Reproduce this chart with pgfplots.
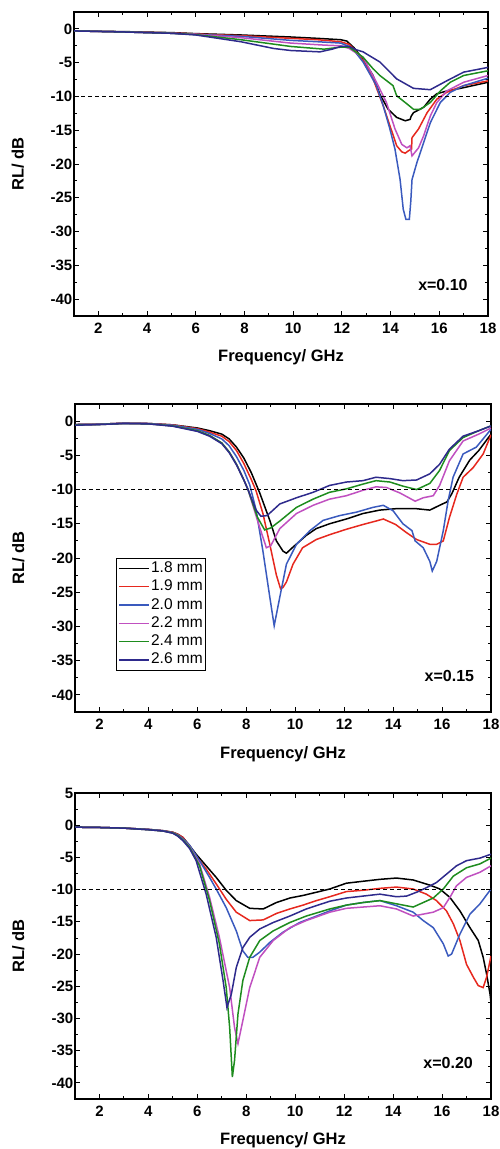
\documentclass[border=0pt]{standalone}
\usepackage{pgfplots}
\pgfplotsset{compat=1.18}
\usepackage{fontspec}
\setmainfont{Liberation Sans}

\definecolor{cBlack}{RGB}{0,0,0}
\definecolor{cRed}{RGB}{230,40,30}
\definecolor{cBlue}{RGB}{58,90,190}
\definecolor{cMag}{RGB}{192,80,192}
\definecolor{cGreen}{RGB}{30,140,30}
\definecolor{cNavy}{RGB}{46,42,140}

\pgfplotsset{
  rl/.style={
    scale only axis, anchor=north west,
    xmin=1, xmax=18, ymin=-42.5,
    xtick={2,4,6,8,10,12,14,16,18},
    xticklabels={2,4,6,8,10,12,14,16,18},
    minor x tick num=1,
    minor y tick num=1,
    axis line style={line width=1.3pt},
    major tick length=5pt, minor tick length=3pt,
    every tick/.style={black, line width=0.9pt},
    tick label style={font=\fontsize{15}{15}\selectfont\bfseries, inner sep=1.5pt},
    xticklabel style={yshift=-5pt},
    label style={font=\fontsize{16.5}{16.5}\selectfont\bfseries},
    xlabel={Frequency/ GHz}, ylabel={RL/ dB},
    xlabel style={at={(axis description cs:0.5,-0.136)}, anchor=center},
    ylabel style={at={(axis description cs:-0.136,0.5)}, anchor=center},
  },
  refline/.style={black, dash pattern=on 4pt off 3pt, line width=0.8pt, forget plot},
}

\begin{document}
\begin{tikzpicture}
\useasboundingbox (0,0) rectangle (499pt,-1149pt);

% ---------------- Panel 1: x=0.10 ----------------
\begin{axis}[rl, at={(74pt,-12pt)}, width=414pt, height=304pt, ymax=2.5,
  ytick={-40,-35,-30,-25,-20,-15,-10,-5,0},
  yticklabels={-40,-35,-30,-25,-20,-15,-10,-5,0}]
\addplot[cBlack, line width=1.5pt] coordinates {(1,-0.3) (3,-0.4) (5,-0.55) (6,-0.7) (7.85,-0.9) (9.9,-1.2) (11,-1.4) (11.95,-1.6) (12.2,-1.8) (12.5,-2.8) (12.87,-4.5) (13.28,-6.9) (13.56,-9.7) (13.9,-11.9) (14.25,-13.1) (14.6,-13.6) (14.8,-13.4) (14.85,-12.9) (14.94,-12.4) (15.36,-11.6) (15.63,-10.4) (15.9,-9.6) (16.3,-9.2) (17,-8.7) (18,-7.9)};
\addplot[cRed, line width=1.5pt] coordinates {(1,-0.3) (3,-0.45) (5,-0.6) (6,-0.75) (7.85,-1.0) (9.9,-1.4) (11,-1.6) (11.95,-1.9) (12.3,-2.3) (12.5,-3.0) (12.87,-4.7) (13.28,-7.4) (13.7,-11.4) (13.97,-14.3) (14.25,-17.3) (14.46,-18.2) (14.6,-18.4) (14.75,-18.0) (14.86,-17.8) (14.88,-16.1) (15.15,-14.8) (15.5,-12.4) (15.9,-10.4) (16.3,-9.4) (17,-8.4) (18,-7.7)};
\addplot[cBlue, line width=1.5pt] coordinates {(1,-0.3) (3,-0.45) (5,-0.65) (6,-0.8) (7.85,-1.1) (9.9,-1.7) (11,-1.9) (11.95,-2.1) (12.3,-2.6) (12.5,-3.2) (12.87,-4.9) (13.42,-8.4) (13.7,-11.4) (13.97,-14.8) (14.18,-17.8) (14.39,-22.3) (14.52,-26.7) (14.63,-28.2) (14.77,-28.2) (14.83,-25.5) (14.88,-22.3) (15.08,-19.8) (15.36,-16.8) (15.63,-13.9) (16.04,-10.9) (16.45,-9.4) (17,-8.4) (18,-7.3)};
\addplot[cMag, line width=1.5pt] coordinates {(1,-0.3) (3,-0.45) (5,-0.65) (6,-0.8) (7.85,-1.3) (9.9,-2.1) (11.27,-2.4) (11.95,-2.5) (12.3,-2.9) (12.6,-3.6) (12.87,-4.2) (13.42,-7.9) (13.83,-10.9) (14.18,-14.8) (14.46,-17.1) (14.67,-17.6) (14.8,-17.3) (14.88,-18.8) (15.15,-17.6) (15.36,-15.8) (15.63,-12.9) (15.9,-10.9) (16.3,-9.2) (17,-7.9) (18,-6.9)};
\addplot[cGreen, line width=1.5pt] coordinates {(1,-0.3) (3,-0.45) (5,-0.65) (6,-0.85) (7.85,-1.6) (9.9,-2.6) (11.27,-3.0) (11.95,-2.7) (12.3,-2.7) (12.87,-4.2) (13.28,-5.9) (13.56,-6.9) (14.1,-8.4) (14.25,-9.9) (14.67,-11.1) (14.94,-11.9) (15.22,-11.9) (15.63,-10.9) (16.04,-9.2) (16.45,-7.9) (17,-6.9) (18,-6.2)};
\addplot[cNavy, line width=1.5pt] coordinates {(1,-0.3) (3,-0.45) (5,-0.65) (6,-0.9) (7.85,-1.9) (9.2,-2.9) (9.9,-3.2) (11.1,-3.4) (11.6,-3.0) (11.95,-2.6) (12.3,-2.6) (12.6,-3.1) (12.87,-3.4) (13.56,-4.9) (14.25,-7.4) (14.94,-8.8) (15.63,-9.0) (16.3,-7.7) (17,-6.4) (18,-5.7)};
\addplot[refline] coordinates {(1,-10) (18,-10)};
\node[font=\fontsize{16}{16}\selectfont\bfseries] at (axis cs:16.15,-37.9) {x=0.10};
\end{axis}

% ---------------- Panel 2: x=0.15 ----------------
\begin{axis}[rl, at={(75pt,-404pt)}, width=416pt, height=308pt, ymax=2.5,
  ytick={-40,-35,-30,-25,-20,-15,-10,-5,0},
  yticklabels={-40,-35,-30,-25,-20,-15,-10,-5,0},
  legend cell align=left,
  legend style={at={(axis description cs:0.099,0.5)}, anchor=north west,
    draw=black, line width=0.8pt, font=\fontsize{15.5}{15.5}\selectfont,
    inner sep=2pt, row sep=2.3pt,
    nodes={inner sep=1pt, text height=11pt, text depth=3pt}},
  legend image code/.code={\draw[#1] plot coordinates {(0pt,0pt) (15pt,0pt) (30pt,0pt)};}]
\addplot[cBlack, line width=1.5pt] coordinates {(1,-0.5) (2,-0.45) (3,-0.3) (4,-0.35) (5,-0.55) (6,-1.0) (6.5,-1.4) (7.0,-1.9) (7.3,-2.6) (7.6,-3.8) (7.9,-5.4) (8.2,-7.5) (8.55,-10.5) (8.96,-14.5) (9.23,-17.5) (9.5,-19.0) (9.64,-19.3) (9.91,-18.4) (10.45,-16.7) (10.86,-15.7) (11.4,-15.0) (12.09,-14.3) (12.77,-13.5) (13.45,-13.0) (14.1,-12.8) (14.96,-12.8) (15.5,-13.0) (15.9,-12.3) (16.2,-11.8) (16.4,-10.6) (16.7,-8.2) (17.13,-5.7) (17.5,-4.3) (18,-1.9)};
\addlegendentry{1.8 mm}
\addplot[cRed, line width=1.5pt] coordinates {(1,-0.5) (2,-0.45) (3,-0.3) (4,-0.35) (5,-0.55) (6,-1.1) (6.5,-1.6) (7.0,-2.2) (7.3,-3.0) (7.6,-4.3) (7.9,-6.2) (8.2,-8.5) (8.4,-10.2) (8.68,-13.5) (8.96,-18.0) (9.23,-22.5) (9.4,-24.5) (9.5,-24.3) (9.64,-23.5) (9.91,-20.9) (10.3,-18.5) (10.86,-17.3) (11.4,-16.6) (12.09,-15.8) (12.77,-15.1) (13.3,-14.6) (13.6,-14.3) (14.1,-15.1) (14.55,-16.3) (14.96,-17.3) (15.5,-18.0) (15.78,-18.0) (16.05,-17.5) (16.3,-14.1) (16.6,-10.7) (16.86,-8.2) (17.27,-6.8) (17.68,-4.8) (18,-2.0)};
\addlegendentry{1.9 mm}
\addplot[cBlue, line width=1.5pt] coordinates {(1,-0.5) (2,-0.45) (3,-0.3) (4,-0.35) (5,-0.6) (6,-1.2) (6.5,-1.8) (7.0,-2.6) (7.3,-3.6) (7.6,-5.2) (7.9,-7.2) (8.14,-9.3) (8.4,-13.0) (8.68,-19.0) (8.96,-25.7) (9.14,-29.9) (9.37,-25.7) (9.64,-20.9) (10.05,-18.0) (10.6,-16.0) (11.14,-14.5) (11.82,-13.8) (12.5,-13.3) (13.18,-12.6) (13.6,-12.3) (14.0,-13.1) (14.4,-15.0) (14.77,-16.0) (14.9,-17.5) (15.23,-18.5) (15.5,-20.5) (15.6,-21.9) (15.78,-20.5) (16.05,-16.0) (16.25,-11.6) (16.45,-8.2) (16.86,-4.8) (17.4,-3.8) (18,-1.2)};
\addlegendentry{2.0 mm}
\addplot[cMag, line width=1.5pt] coordinates {(1,-0.55) (2,-0.5) (3,-0.35) (4,-0.4) (5,-0.7) (6,-1.4) (6.5,-2.1) (7.0,-3.2) (7.3,-4.5) (7.6,-6.3) (7.9,-8.6) (8.07,-10.0) (8.5,-15.0) (8.82,-18.5) (9.0,-18.2) (9.37,-15.7) (10.05,-13.5) (10.73,-12.3) (11.4,-11.4) (12.09,-10.9) (12.77,-10.1) (13.3,-9.6) (13.73,-9.7) (14.28,-10.5) (14.9,-11.7) (15.23,-11.2) (15.64,-10.9) (15.9,-9.4) (16.3,-5.8) (16.86,-2.9) (17.5,-1.9) (18,-1.0)};
\addlegendentry{2.2 mm}
\addplot[cGreen, line width=1.5pt] coordinates {(1,-0.55) (2,-0.5) (3,-0.35) (4,-0.4) (5,-0.7) (6,-1.4) (6.5,-2.1) (7.0,-3.2) (7.3,-4.5) (7.6,-6.3) (7.9,-8.6) (8.07,-10.0) (8.45,-14.0) (8.75,-15.9) (9.0,-15.6) (9.37,-14.6) (10.05,-12.6) (10.73,-11.4) (11.4,-10.4) (12.09,-9.9) (12.77,-9.2) (13.3,-8.7) (13.87,-8.9) (14.4,-9.5) (14.96,-10.0) (15.5,-9.1) (15.9,-7.2) (16.3,-4.3) (16.86,-2.4) (17.5,-1.4) (18,-0.7)};
\addlegendentry{2.4 mm}
\addplot[cNavy, line width=1.5pt] coordinates {(1,-0.6) (2,-0.5) (3,-0.35) (4,-0.4) (5,-0.75) (6,-1.5) (6.5,-2.2) (7.0,-3.3) (7.3,-4.6) (7.6,-6.4) (7.9,-8.6) (8.07,-10.0) (8.4,-13.0) (8.6,-13.9) (8.85,-13.8) (9.37,-12.1) (10.05,-11.2) (10.73,-10.4) (11.4,-9.4) (12.09,-8.9) (12.77,-8.7) (13.3,-8.2) (13.87,-8.4) (14.4,-8.7) (14.96,-8.6) (15.5,-7.7) (15.9,-6.3) (16.3,-4.1) (16.86,-2.2) (17.5,-1.4) (18,-0.7)};
\addlegendentry{2.6 mm}
\addplot[refline] coordinates {(1,-10) (18,-10)};
\node[font=\fontsize{16}{16}\selectfont\bfseries] at (axis cs:16.3,-37.2) {x=0.15};
\end{axis}

% ---------------- Panel 3: x=0.20 ----------------
\begin{axis}[rl, at={(75pt,-793pt)}, width=416pt, height=306pt, ymax=5,
  ytick={-40,-35,-30,-25,-20,-15,-10,-5,0,5},
  yticklabels={-40,-35,-30,-25,-20,-15,-10,-5,0,5}]
\addplot[cBlack, line width=1.5pt] coordinates {(1,-0.3) (2,-0.35) (3,-0.45) (4,-0.65) (4.6,-0.85) (5.0,-1.1) (5.2,-1.4) (5.41,-1.9) (5.65,-3.0) (5.95,-4.5) (6.36,-6.3) (6.77,-8.1) (7.18,-10.1) (7.59,-11.7) (8.14,-12.9) (8.69,-13.0) (9.23,-12.0) (9.78,-11.3) (10.32,-10.9) (10.87,-10.4) (11.41,-9.9) (12.09,-9.0) (12.77,-8.7) (13.46,-8.4) (14.14,-8.2) (14.82,-8.5) (15.5,-9.3) (15.91,-9.9) (16.32,-11.2) (16.73,-13.3) (17.14,-15.9) (17.48,-17.9) (17.68,-20.5) (17.82,-23.1) (17.96,-26.2) (18,-27.5)};
\addplot[cRed, line width=1.5pt] coordinates {(1,-0.3) (2,-0.35) (3,-0.45) (4,-0.65) (4.6,-0.85) (5.0,-1.1) (5.2,-1.4) (5.41,-1.9) (5.65,-3.1) (5.95,-4.8) (6.36,-6.8) (6.77,-9.1) (7.18,-11.5) (7.59,-13.5) (8.14,-14.8) (8.69,-14.7) (9.23,-13.7) (9.78,-13.0) (10.32,-12.4) (10.87,-11.7) (11.41,-11.1) (12.09,-10.3) (12.77,-10.1) (13.46,-9.8) (14.14,-9.6) (14.82,-9.9) (15.36,-10.7) (15.77,-11.7) (16.18,-13.3) (16.46,-15.3) (16.73,-17.9) (17.0,-21.6) (17.28,-23.6) (17.48,-24.9) (17.68,-25.2) (17.82,-23.6) (18,-20.3)};
\addplot[cBlue, line width=1.5pt] coordinates {(1,-0.3) (2,-0.35) (3,-0.45) (4,-0.65) (4.6,-0.85) (5.0,-1.15) (5.2,-1.5) (5.41,-2.1) (5.68,-3.1) (6.09,-5.5) (6.5,-8.1) (6.77,-9.9) (7.18,-12.8) (7.59,-16.4) (7.86,-19.5) (8.06,-20.5) (8.27,-20.5) (8.55,-19.7) (8.96,-18.2) (9.5,-16.6) (10.18,-15.1) (10.87,-14.1) (11.41,-13.3) (12.09,-12.4) (12.77,-12.0) (13.46,-11.7) (14.14,-12.5) (14.82,-13.5) (15.23,-14.8) (15.64,-15.9) (16.05,-18.4) (16.25,-20.3) (16.39,-20.0) (16.73,-16.9) (17.14,-13.8) (17.55,-12.2) (18,-9.9)};
\addplot[cMag, line width=1.5pt] coordinates {(1,-0.3) (2,-0.35) (3,-0.45) (4,-0.7) (4.6,-0.9) (5.0,-1.2) (5.2,-1.6) (5.41,-2.3) (5.68,-3.3) (6.09,-6.0) (6.5,-11.2) (6.9,-17.4) (7.32,-25.2) (7.52,-31.4) (7.66,-33.9) (7.86,-30.3) (8.14,-25.2) (8.55,-20.5) (9.1,-17.9) (9.78,-15.9) (10.45,-14.8) (11.41,-13.5) (12.09,-12.9) (12.77,-12.7) (13.46,-12.5) (14.14,-13.0) (14.82,-14.1) (15.23,-13.8) (15.64,-13.5) (16.05,-12.8) (16.32,-11.2) (16.59,-9.4) (17.0,-8.1) (17.55,-7.3) (18,-6.3)};
\addplot[cGreen, line width=1.5pt] coordinates {(1,-0.3) (2,-0.35) (3,-0.45) (4,-0.7) (4.6,-0.9) (5.0,-1.2) (5.2,-1.6) (5.41,-2.3) (5.68,-3.4) (6.09,-6.3) (6.5,-11.7) (6.9,-18.4) (7.18,-25.2) (7.32,-31.4) (7.43,-39.1) (7.52,-36.5) (7.66,-29.3) (7.86,-24.1) (8.14,-20.5) (8.55,-17.9) (9.1,-16.4) (9.78,-15.1) (10.45,-14.1) (11.41,-13.0) (12.09,-12.4) (12.77,-12.0) (13.46,-11.7) (14.14,-12.2) (14.82,-12.7) (15.23,-12.0) (15.64,-11.3) (16.05,-9.9) (16.46,-7.9) (17.0,-6.6) (17.55,-6.0) (18,-5.1)};
\addplot[cNavy, line width=1.5pt] coordinates {(1,-0.3) (2,-0.35) (3,-0.45) (4,-0.7) (4.6,-0.9) (5.0,-1.25) (5.2,-1.7) (5.41,-2.4) (5.68,-3.6) (5.95,-5.5) (6.36,-10.7) (6.77,-17.4) (7.05,-24.1) (7.21,-28.3) (7.39,-26.2) (7.59,-22.1) (7.86,-19.0) (8.14,-17.4) (8.55,-16.1) (9.1,-15.1) (9.78,-14.1) (10.45,-13.0) (11.41,-11.8) (12.09,-11.3) (12.77,-11.0) (13.46,-10.7) (14.14,-11.1) (14.55,-11.0) (14.96,-10.4) (15.36,-9.7) (15.77,-8.9) (16.18,-7.6) (16.59,-6.3) (17.0,-5.5) (17.55,-5.1) (18,-4.5)};
\addplot[refline] coordinates {(1,-10) (18,-10)};
\node[font=\fontsize{16}{16}\selectfont\bfseries] at (axis cs:16.25,-36.9) {x=0.20};
\end{axis}
\end{tikzpicture}
\end{document}
